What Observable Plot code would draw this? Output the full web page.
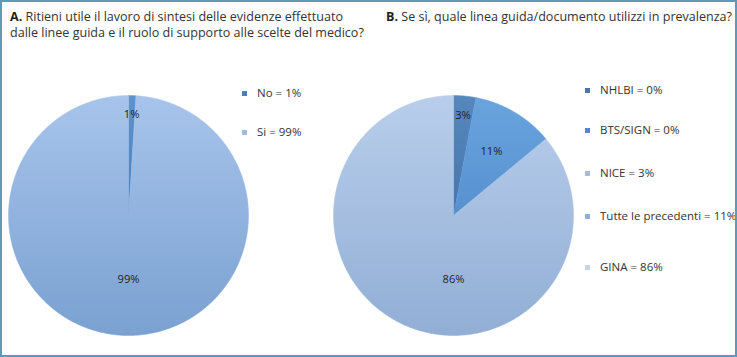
<!DOCTYPE html>
<html><head><meta charset="utf-8">
<script src="https://cdn.jsdelivr.net/npm/d3@7"></script>
<script src="https://cdn.jsdelivr.net/npm/@observablehq/plot@0.6"></script>
<style>
body{margin:0;background:#fff;}
#chart{position:relative;width:737px;height:357px;box-sizing:border-box;border:2px solid #5a9bbd;font-family:"Open Sans",sans-serif;color:#333;overflow:hidden;background:#fff;}
.title{position:absolute;line-height:15.5px;white-space:nowrap;}
.title b{color:#1e1e1e;font-weight:700;}
.pie{position:absolute;}
.leg{position:absolute;white-space:nowrap;line-height:12px;height:12px;}
.leg .sw{position:absolute;left:0;top:3.5px;width:5px;height:5px;}
.leg .tx{position:absolute;left:15px;top:0;}
</style></head><body><div id="chart"></div>
<script>
// ---- data ----
const catsA = ["No", "Si"];
const valsA = [1, 99];
const catsB = ["NHLBI", "BTS/SIGN", "NICE", "Tutte le precedenti", "GINA"];
const valsB = [0, 0, 3, 11, 86];
const titleA1 = "Ritieni utile il lavoro di sintesi delle evidenze effettuato";
const titleA2 = "dalle linee guida e il ruolo di supporto alle scelte del medico?";
const titleB = "Se sì, quale linea guida/documento utilizzi in prevalenza?";

// ---- styles ----
const sliceA = [["#5e94ce", "#4a7fbb"], ["#a7c4eb", "#7aa1d1"]];
const legA = ["#4a7fbf", "#9dbae1"];
const sliceB = [["#4a78ad", "#3f6da3"], ["#4d88cb", "#4479ba"], ["#5788bd", "#4676ab"], ["#6aa4df", "#5690cf"], ["#b8ceeb", "#92aed5"]];
const legB = ["#4a77a8", "#4f88cc", "#a6bbda", "#8eaedc", "#c6d3e7"];

const FONT = '"Open Sans", sans-serif';
const ctx = document.createElement("canvas").getContext("2d");
function fit(text, target, weight = "") {
  ctx.font = `${weight} 100px ${FONT}`;
  return 100 * target / ctx.measureText(text).width;
}
const titleSize = (fit("A. " + titleA1, 334) + fit("B. " + titleB, 344)) / 2;
const legSize = (fit("Tutte le precedenti = 11%", 131) + fit("No = 1%", 46)) / 2;
const labSize = (fit("86%", 22) + fit("99%", 22)) / 2;

const chart = document.getElementById("chart");

function addTitle(html, left, top) {
  const d = document.createElement("div");
  d.className = "title";
  d.style.left = left + "px";
  d.style.top = top + "px";
  d.style.fontSize = titleSize + "px";
  d.innerHTML = html;
  chart.appendChild(d);
}
addTitle(`<b>A.</b> ${titleA1}<br>${titleA2}`, 8, 7);
addTitle(`<b>B.</b> ${titleB}`, 384, 7);

let gid = 0;
function pie(cats, vals, fills, left, top) {
  const R = 120, m = 4;
  const total = d3.sum(vals);
  const arcs = d3.pie().sort(null).value(d => d)(vals);
  const id = "p" + (gid++);
  const marks = [];
  marks.push(() => {
    const defs = d3.create("svg:defs");
    fills.forEach((c, i) => {
      const g = defs.append("linearGradient").attr("id", `${id}g${i}`)
        .attr("x1", 0).attr("y1", 0).attr("x2", 0).attr("y2", 1);
      g.append("stop").attr("offset", 0).attr("stop-color", c[0]);
      g.append("stop").attr("offset", 1).attr("stop-color", c[1]);
    });
    return defs.node();
  });
  const labels = [];
  arcs.forEach((a, i) => {
    const span = a.endAngle - a.startAngle;
    if (span <= 0) return;
    const n = Math.max(2, Math.ceil(span / (Math.PI / 360)));
    const pts = [{x: 0, y: 0}];
    for (let j = 0; j <= n; j++) {
      const t = a.startAngle + span * j / n;
      pts.push({x: Math.sin(t), y: Math.cos(t)});
    }
    pts.push({x: 0, y: 0});
    marks.push(Plot.line(pts, {x: "x", y: "y", fill: `url(#${id}g${i})`, stroke: `url(#${id}g${i})`, strokeWidth: 0.5, curve: "linear"}));
    const frac = vals[i] / total;
    let ang = (a.startAngle + a.endAngle) / 2, r;
    if (frac >= 0.5) { ang = Math.PI; r = 0.53; }
    else if (frac < 0.05) r = 0.84;
    else r = 0.62;
    labels.push({x: r * Math.sin(ang), y: r * Math.cos(ang), t: `${vals[i]}%`});
  });
  marks.push(Plot.text(labels, {x: "x", y: "y", text: "t", fill: "#1f1f1f", fontSize: labSize, fontFamily: FONT}));
  const p = Plot.plot({
    width: 2 * R + 2 * m, height: 2 * R + 2 * m,
    margin: m,
    x: {domain: [-1, 1], axis: null},
    y: {domain: [-1, 1], axis: null},
    style: {background: "transparent", overflow: "visible"},
    marks
  });
  p.classList.add("pie");
  p.style.left = left + "px";
  p.style.top = top + "px";
  chart.appendChild(p);
}
pie(catsA, valsA, sliceA, 2, 89);
pie(catsB, valsB, sliceB, 327, 89);

function legend(cats, vals, colors, x, ys) {
  cats.forEach((c, i) => {
    const d = document.createElement("div");
    d.className = "leg";
    d.style.left = (x - 2) + "px";
    d.style.top = (ys[i] - 2 - 6) + "px";
    d.style.fontSize = legSize + "px";
    d.innerHTML = `<span class="sw" style="background:${colors[i]}"></span><span class="tx">${c} = ${vals[i]}%</span>`;
    chart.appendChild(d);
  });
}
legend(catsA, valsA, legA, 242, [93, 132]);
legend(catsB, valsB, legB, 585, [90, 130, 173, 216, 267]);
</script></body></html>
